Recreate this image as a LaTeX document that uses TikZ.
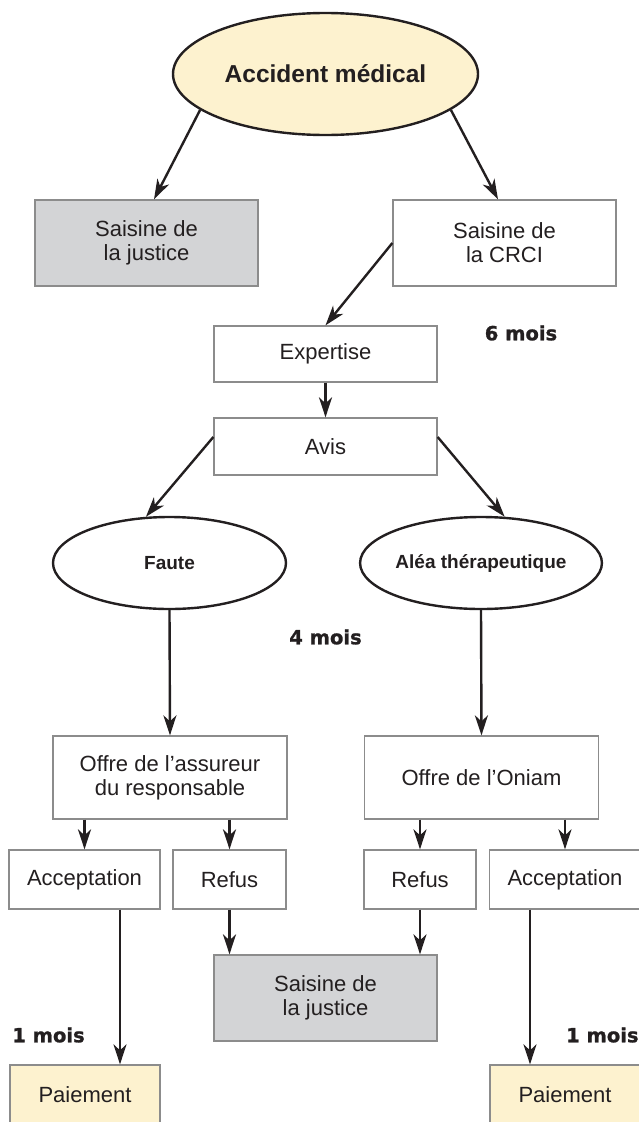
\documentclass[tikz,border=0pt]{standalone}
\usepackage{fontspec}
\setmainfont{Liberation Sans}
\newfontfamily\heavyfont{DejaVu Sans Bold}[RawFeature={embolden=1.2}]
\usetikzlibrary{arrows.meta,shapes.geometric}
\definecolor{ink}{HTML}{231F20}
\definecolor{boxline}{HTML}{8C8C8C}
\definecolor{grayfill}{HTML}{D3D4D6}
\definecolor{yel}{HTML}{FDF2CF}
\begin{document}
\begin{tikzpicture}[x=1pt,y=-1pt,
  box/.style={draw=boxline, line width=1.3pt, fill=white, text=ink, inner sep=0pt,
    font=\fontsize{22}{24}\selectfont, align=center},
  gbox/.style={box, fill=grayfill},
  ybox/.style={box, fill=yel},
  oval/.style={ellipse, draw=ink, line width=2.4pt, fill=white, inner sep=0pt, text=ink,
    font=\bfseries\fontsize{19}{22}\selectfont},
  arr/.style={draw=ink, line width=2.4pt, -{Stealth[length=20pt,width=13pt,inset=6pt]}},
  lab/.style={text=ink, inner sep=0pt, font=\heavyfont\fontsize{19.5}{22}\selectfont}]
\useasboundingbox (0,0) rectangle (638,1122);

\node[oval, fill=yel, minimum width=305, minimum height=122,
  font=\bfseries\fontsize{24.5}{28}\selectfont] (acc) at (325.5,74) {Accident médical};

\node[gbox, minimum width=223, minimum height=86] (sj) at (146.5,243) {Saisine de\\la justice};
\node[box, minimum width=223, minimum height=86] (crci) at (504.5,243) {Saisine de\\la CRCI};

\node[box, minimum width=223, minimum height=56] (exp) at (325.5,354) {Expertise};
\node[box, minimum width=223, minimum height=57] (avis) at (325.5,446.5) {Avis};

\node[oval, minimum width=233, minimum height=92] (faute) at (169.5,563) {Faute};
\node[oval, minimum width=232, minimum height=92] (alea) at (481,563) {Aléa thérapeutique};

\node[box, minimum width=234, minimum height=83] (off1) at (170,777.5) {Offre de l’assureur\\du responsable};
\node[box, minimum width=234, minimum height=83] (off2) at (481.5,777.5) {Offre de l’Oniam};

\node[box, minimum width=151, minimum height=59] (acc1) at (84.5,879.5) {Acceptation};
\node[box, minimum width=113, minimum height=59] (ref1) at (229.5,879.5) {Refus};
\node[box, minimum width=112, minimum height=59] (ref2) at (420,879.5) {Refus};
\node[box, minimum width=151, minimum height=59] (acc2) at (565,879.5) {Acceptation};

\node[gbox, minimum width=223, minimum height=86] (sj2) at (325.5,998) {Saisine de\\la justice};

\node[ybox, minimum width=150, minimum height=60] (pay1) at (85,1095) {Paiement};
\node[ybox, minimum width=150, minimum height=60] (pay2) at (565,1095) {Paiement};

\node[lab] (m6) at (521,333) {6 mois};
\node[lab] (m4) at (325.5,637) {4 mois};
\node[lab] (m1a) at (48.5,1035) {1 mois};
\node[lab, anchor=west] (m1b) at (566,1035) {1 mois};

\draw[arr] (acc.196) -- ([xshift=7.5pt]sj.north);
\draw[arr] (acc.344) -- ([xshift=-6.5pt]crci.north);
\draw[arr] (crci.west) -- (exp.north);
\draw[arr] (exp.south) -- (avis.north);
\draw[arr] ([yshift=9.5pt]avis.west) -- (faute.117);
\draw[arr] ([yshift=9.5pt]avis.east) -- (alea.63);
\draw[arr] (faute.south) -- (off1.north);
\draw[arr] (alea.south) -- (off2.north);
\draw[arr] (acc1.north |- off1.south) -- (acc1.north);
\draw[arr] (ref1.north |- off1.south) -- (ref1.north);
\draw[arr] (ref2.north |- off2.south) -- (ref2.north);
\draw[arr] (acc2.north |- off2.south) -- (acc2.north);
\draw[arr] (ref1.south) -- (ref1.south |- sj2.north);
\draw[arr] (ref2.south) -- (ref2.south |- sj2.north);
\draw[arr] ([xshift=35.5pt]acc1.south) -- ([xshift=35pt]pay1.north);
\draw[arr] ([xshift=-35pt]acc2.south) -- ([xshift=-35pt]pay2.north);
\end{tikzpicture}
\end{document}
